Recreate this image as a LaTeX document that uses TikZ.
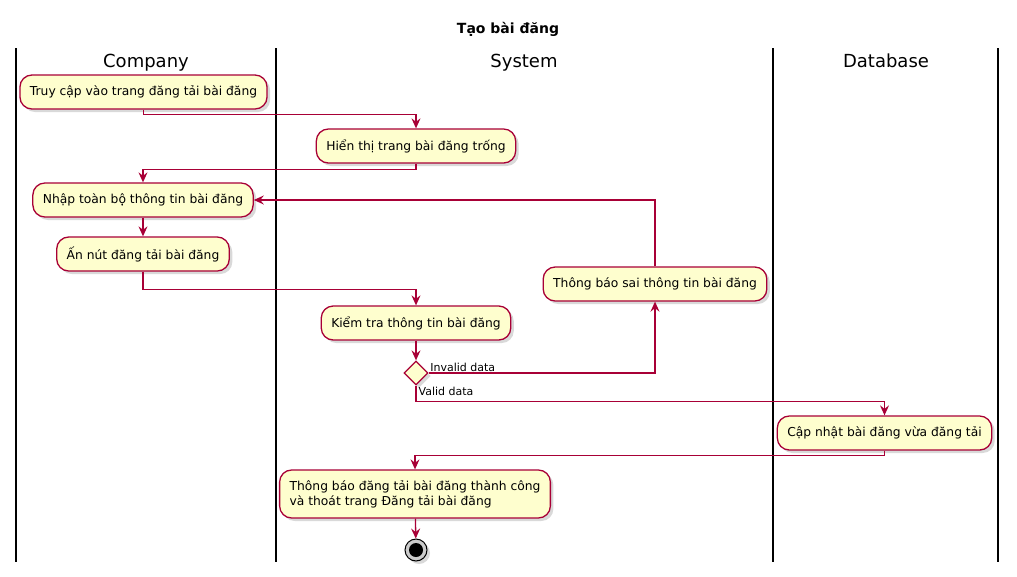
\documentclass[tikz,border=0pt]{standalone}
\usepackage{fontspec}
\setmainfont{DejaVu Sans}
\usetikzlibrary{shapes.geometric,arrows.meta,shadows}
\definecolor{umlred}{HTML}{A80036}
\definecolor{umlyel}{HTML}{FEFECE}
\tikzstyle{block} = [rectangle, draw=umlred, fill=umlyel, line width=1.3pt,
    rounded corners=12pt, minimum height=34pt, inner xsep=10pt,
    font=\fontsize{12.3}{15}\selectfont,
    drop shadow={shadow xshift=3pt, shadow yshift=-3pt, opacity=0.3}]
\tikzstyle{line} = [draw=umlred, line width=1.3pt, -{Stealth[length=10pt,width=9pt,inset=3.5pt]}]
\tikzstyle{lane} = [draw, line width=1.6pt]
\tikzstyle{head} = [font=\fontsize{18}{20}\selectfont, anchor=base]
\tikzstyle{cond} = [font=\fontsize{11}{13}\selectfont, inner sep=1pt]

\begin{document}
\begin{tikzpicture}[x=1pt, y=-1pt]
        \useasboundingbox (0,0) rectangle (1017,576);
        % Title and swimlanes
        \node [font=\bfseries\fontsize{14}{16}\selectfont, anchor=base] (titl) at (508,33) {Tạo bài đăng};
        \draw [lane] (16,48) -- (16,562);
        \draw [lane] (276,48) -- (276,562);
        \draw [lane] (773,48) -- (773,562);
        \draw [lane] (998,48) -- (998,562);
        \node [head] (comp) at (146,67) {Company};
        \node [head] (syst) at (524,67) {System};
        \node [head] (data) at (886,67) {Database};

        % Place nodes

        % 1. Company opens the page, system shows an empty form
        \node [block] (truy) at (143.5,92) {Truy cập vào trang đăng tải bài đăng};
        \node [block] (hien) at (416,146) {Hiển thị trang bài đăng trống};

        % 2. Company fills in and submits the form
        \node [block] (nhap) at (143,200) {Nhập toàn bộ thông tin bài đăng};
        \node [block] (annu) at (143,254) {Ấn nút đăng tải bài đăng};

        % 3. System checks the data
        \node [block] (kiem) at (416,323) {Kiểm tra thông tin bài đăng};
        \node [diamond, draw=umlred, fill=umlyel, line width=1.3pt, inner sep=0pt,
               minimum width=24pt, minimum height=24pt,
               drop shadow={shadow xshift=3pt, shadow yshift=-3pt, opacity=0.3}] (chec) at (416,373) {};
        \node [block] (sait) at (655,284) {Thông báo sai thông tin bài đăng};

        % 4. Database update and final message
        \node [block] (capn) at (884.5,433) {Cập nhật bài đăng vừa đăng tải};
        \node [block, align=left, minimum height=48pt] (thon) at (415,494)
              {Thông báo đăng tải bài đăng thành công\\và thoát trang Đăng tải bài đăng};
        \node [circle, draw, fill=black!20, line width=1pt, inner sep=0pt, minimum size=22pt,
               drop shadow={shadow xshift=3pt, shadow yshift=-3pt, opacity=0.3}] (stop) at (416,550) {};
        \node [circle, fill=black, inner sep=0pt, minimum size=14pt] (dot) at (stop) {};

        % Draw edges
        \path [line] (truy.south) -- ++(0,5) -| (hien.north);
        \path [line] (hien.south) -- ++(0,6) -| (nhap.north);
        \path [line] (nhap) -- (annu);
        \path [line] (annu.south) -- ++(0,18) -| (kiem.north);
        \path [line] (kiem) -- (chec);
        \path [line] (chec.east) -| node [cond, pos=0, anchor=south west] {Invalid data} (sait.south);
        \path [line] (sait.north) |- (nhap.east);
        \path [line] (chec.south) -- node [cond, pos=0, anchor=north west, xshift=1pt] {Valid data}
              ++(0,16) -| (capn.north);
        \path [line] (capn.south) -- ++(0,5) -| (thon.north);
        \path [line] (thon) -- (stop);
\end{tikzpicture}
\end{document}
